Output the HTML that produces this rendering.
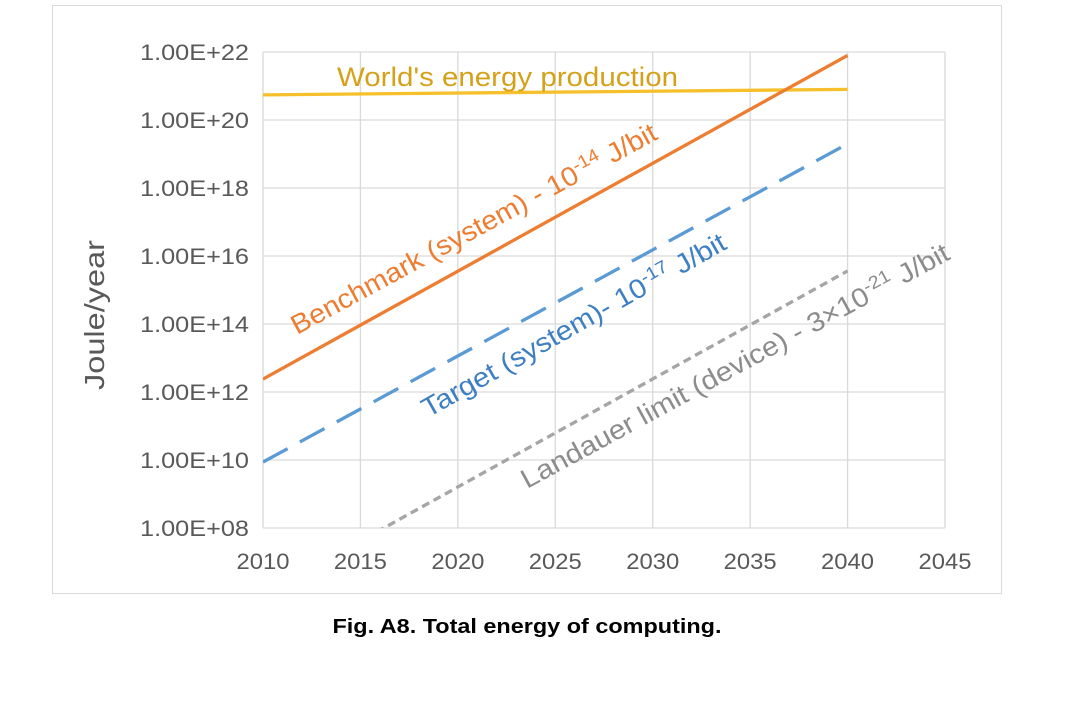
<!DOCTYPE html>
<html><head><meta charset="utf-8"><style>
body{margin:0;background:#fff;width:1078px;height:706px;overflow:hidden;font-family:"Liberation Sans",sans-serif}
</style></head><body>
<svg id="chart" width="1078" height="706" xmlns="http://www.w3.org/2000/svg" font-family="Liberation Sans, sans-serif">
<rect x="52.5" y="5.5" width="949" height="588" fill="#fff" stroke="#d9d9d9"/>
<g id="grid"></g><g id="axes"></g><g id="series"></g>
<text transform="translate(104,315) rotate(-90)" text-anchor="middle" font-size="28" fill="#595959" textLength="150" lengthAdjust="spacingAndGlyphs">Joule/year</text>
<g font-size="27">
<text x="337" y="86" fill="#d4a21a" textLength="341" lengthAdjust="spacingAndGlyphs">World's energy production</text>
<text transform="translate(297,335) rotate(-28.5)" fill="#ed7d31" textLength="412" lengthAdjust="spacingAndGlyphs">Benchmark (system) - 10<tspan dy="-10" font-size="18">-14</tspan><tspan dy="10"> J/bit</tspan></text>
<text transform="translate(428,418) rotate(-29.5)" fill="#3e7fc4" textLength="345" lengthAdjust="spacingAndGlyphs">Target (system)- 10<tspan dy="-10" font-size="18">-17</tspan><tspan dy="10"> J/bit</tspan></text>
<text transform="translate(527,489) rotate(-28.5)" fill="#8c8c8c" textLength="483" lengthAdjust="spacingAndGlyphs">Landauer limit (device) - 3×10<tspan dy="-10" font-size="18">-21</tspan><tspan dy="10"> J/bit</tspan></text>
</g>
<text x="527" y="633" text-anchor="middle" font-size="20" font-weight="bold" fill="#000" textLength="389" lengthAdjust="spacingAndGlyphs">Fig. A8. Total energy of computing.</text>
</svg>
<script>
const xTicks=[2010,2015,2020,2025,2030,2035,2040,2045];
const yTicks=[8,10,12,14,16,18,20,22];
const yTickLabels=["1.00E+08","1.00E+10","1.00E+12","1.00E+14","1.00E+16","1.00E+18","1.00E+20","1.00E+22"];
const years=[2010,2040];
const worldLog=[20.74,20.9];
const benchmarkLog=[12.38,21.9];
const targetLog=[9.94,19.3];
const landauerLog=[6.03,15.56];
const NS="http://www.w3.org/2000/svg";
const X0=263,X1=945,Y0=528,Y1=52;
const xs=v=>X0+(v-2010)/35*(X1-X0);
const ys=v=>Y0-(v-8)/14*(Y0-Y1);
function mk(tag,attrs,parent){const e=document.createElementNS(NS,tag);for(const k in attrs)e.setAttribute(k,attrs[k]);parent.appendChild(e);return e;}
const grid=document.getElementById('grid'),axes=document.getElementById('axes'),ser=document.getElementById('series');
xTicks.forEach(t=>{const l=mk('line',{x1:xs(t),x2:xs(t),y1:Y1,y2:Y0,stroke:'#d9d9d9','stroke-width':1.3},grid);


const tx=mk('text',{x:xs(t),y:Y0+41,'text-anchor':'middle','font-size':22,fill:'#595959',textLength:53,lengthAdjust:'spacingAndGlyphs'},axes);tx.textContent=t;

});
yTicks.forEach((t,i)=>{const l=mk('line',{x1:X0,x2:X1,y1:ys(t),y2:ys(t),stroke:'#d9d9d9','stroke-width':1.3},grid);


const tx=mk('text',{x:X0-14,y:ys(t)+8,'text-anchor':'end','font-size':22,fill:'#595959',textLength:109,lengthAdjust:'spacingAndGlyphs'},axes);tx.textContent=yTickLabels[i];

});
const cp=mk('clipPath',{id:'clip'},ser);mk('rect',{x:X0,y:Y1-10,width:X1-X0,height:Y0-Y1+10},cp);
function line(vals,color,dash,name){const pts=years.map((y,i)=>xs(y)+','+ys(vals[i])).join(' ');
const p=mk('polyline',{points:pts,fill:'none',stroke:color,'stroke-width':3.3,'stroke-dasharray':dash,'clip-path':'url(#clip)'},ser);

}
line(worldLog,'#f5c02c','none','world-energy-line');
line(benchmarkLog,'#ed7d31','none','benchmark-line');
line(targetLog,'#5b9bd5','28 14','target-line');
line(landauerLog,'#a5a5a5','8 5','landauer-line');
</script>
</body></html>
